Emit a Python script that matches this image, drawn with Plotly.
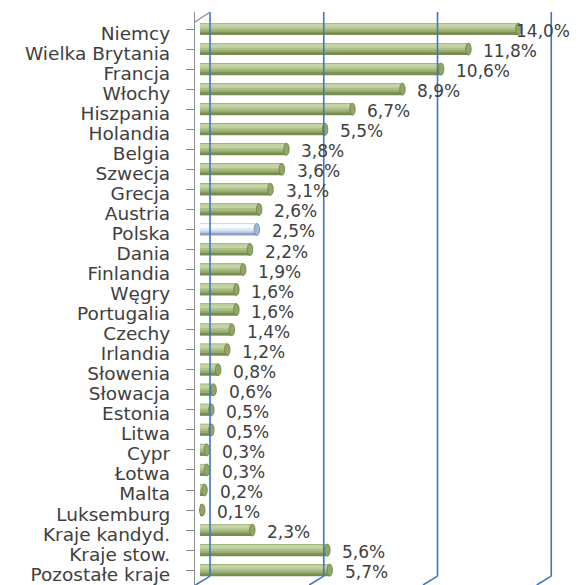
import plotly.graph_objects as go

countries = ["Niemcy", "Wielka Brytania", "Francja", "Włochy", "Hiszpania", "Holandia",
             "Belgia", "Szwecja", "Grecja", "Austria", "Polska", "Dania", "Finlandia",
             "Węgry", "Portugalia", "Czechy", "Irlandia", "Słowenia", "Słowacja",
             "Estonia", "Litwa", "Cypr", "Łotwa", "Malta", "Luksemburg",
             "Kraje kandyd.", "Kraje stow.", "Pozostałe kraje"]
shares = [14.0, 11.8, 10.6, 8.9, 6.7, 5.5, 3.8, 3.6, 3.1, 2.6, 2.5, 2.2, 1.9,
          1.6, 1.6, 1.4, 1.2, 0.8, 0.6, 0.5, 0.5, 0.3, 0.3, 0.2, 0.1,
          2.3, 5.6, 5.7]
gridvals = [0, 5, 10, 15]
highlight = "Polska"

labels = [f"{v:.1f}".replace(".", ",") + "%" for v in shares]
idx = list(range(len(countries)))
is_hl = [c == highlight for c in countries]

# cylinder shading layers: (offset, width, green colour, highlight colour)
layers = [
    (-0.30, 0.60, "#7A8C52", "#8AA1C4"),
    (-0.30, 0.46, "#97AC6F", "#C6D5EA"),
    (-0.28, 0.33, "#ACBF88", "#E4ECF7"),
    (-0.26, 0.19, "#C4D2A5", "#FBFDFF"),
]

fig = go.Figure()
for off, w, gcol, hcol in layers:
    fig.add_trace(go.Bar(
        y=idx, x=shares, orientation="h", width=w, offset=off,
        marker=dict(color=[hcol if h else gcol for h in is_hl], line=dict(width=0)),
        hoverinfo="skip"))

# rounded cylinder end caps
cap_half = 0.12
for i, (v, h) in enumerate(zip(shares, is_hl)):
    fig.add_shape(type="circle", xref="x", yref="y",
                  x0=v - cap_half, x1=v + cap_half, y0=i - 0.3, y1=i + 0.3,
                  fillcolor="#9DB8DA" if h else "#92A669",
                  line=dict(color="#6F88AE" if h else "#6C7F45", width=0.8))

# value labels
for i, (v, t) in enumerate(zip(shares, labels)):
    fig.add_annotation(x=v, y=i, text=t, showarrow=False, xanchor="left",
                       xshift=-5 if v > 13 else 13, yshift=-2,
                       font=dict(family="DejaVu Sans", size=17, color="#404040"))

y_top = -0.85
y_back = 27.3
y_bot = 27.74
back = 0.44
front = -0.2
for v in gridvals:
    fig.add_shape(type="line", xref="x", yref="y", x0=v + back, x1=v + back, y0=y_top, y1=y_back,
                  line=dict(color="#3D77C4", width=1.6), layer="above")
    fig.add_shape(type="line", xref="x", yref="y", x0=v + back, x1=v + front, y0=y_back, y1=y_bot,
                  line=dict(color="#3D77C4", width=1.6), layer="above")
# slanted top of the category axis
fig.add_shape(type="line", xref="x", yref="y", x0=-0.22, x1=back, y0=-0.35, y1=y_top,
              line=dict(color="#8C8C8C", width=1.2))

fig.update_layout(
    width=580, height=585,
    margin=dict(l=195, r=16, t=12, b=0),
    paper_bgcolor="white", plot_bgcolor="white",
    barmode="overlay", showlegend=False,
    xaxis=dict(range=[-0.22, 16], showgrid=False, zeroline=False, showticklabels=False,
               showline=False, ticks=""),
    yaxis=dict(range=[y_bot, y_top], tickmode="array", tickvals=idx, ticktext=countries,
               tickson="boundaries",
               showgrid=False, zeroline=False, showline=True, linecolor="#8C8C8C", linewidth=1.2,
               ticks="outside", ticklen=8, tickcolor="#8C8C8C", tickwidth=1.2,
               tickfont=dict(family="DejaVu Sans", size=18.5, color="#404040"),
               ticklabelstandoff=12, ticklabelshift=-4),
)

fig.write_html("out.html", config={"displayModeBar": False},
               post_script="document.body.style.margin='0';")
